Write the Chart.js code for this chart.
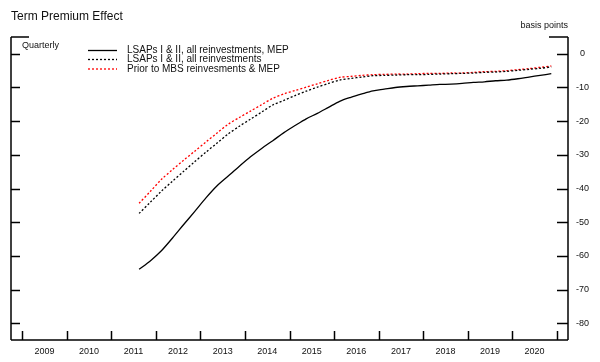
<!DOCTYPE html>
<html><head><meta charset="utf-8">
<script src="https://cdn.jsdelivr.net/npm/chart.js@4/dist/chart.umd.min.js"></script>
<style>html,body{margin:0;padding:0;background:#fff;}#wrap{width:600px;height:362px;position:relative;}</style>
</head><body><div id="wrap"><canvas id="c" width="600" height="362" style="width:600px;height:362px"></canvas></div>
<script>
const chartTitle = 'Term Premium Effect';
const unitLabel = 'basis points';
const freqLabel = 'Quarterly';
const quarters = ['2011Q3','2011Q4',
 '2012Q1','2012Q2','2012Q3','2012Q4','2013Q1','2013Q2','2013Q3','2013Q4',
 '2014Q1','2014Q2','2014Q3','2014Q4','2015Q1','2015Q2','2015Q3','2015Q4',
 '2016Q1','2016Q2','2016Q3','2016Q4','2017Q1','2017Q2','2017Q3','2017Q4',
 '2018Q1','2018Q2','2018Q3','2018Q4','2019Q1','2019Q2','2019Q3','2019Q4',
 '2020Q1','2020Q2','2020Q3','2020Q4'];
const seriesNames = ['LSAPs I & II, all reinvestments, MEP','LSAPs I & II, all reinvestments','Prior to MBS reinvesments & MEP'];
const lsapsMep = [-64,-61.5,-58.5,-54.7,-50.7,-46.8,-42.8,-39.2,-36.3,-33.4,
 -30.6,-28.1,-25.8,-23.4,-21.3,-19.3,-17.7,-15.9,-14.1,-12.9,
 -11.9,-11.0,-10.5,-10.0,-9.7,-9.5,-9.3,-9.1,-9.0,-8.8,
 -8.5,-8.3,-8.0,-7.8,-7.4,-6.9,-6.4,-5.9];
const lsapsAll = [-47.4,-44.1,-40.8,-37.8,-34.9,-32.0,-29.2,-26.5,-23.8,-21.5,
 -19.4,-17.3,-15.2,-13.8,-12.4,-11.1,-9.9,-8.8,-7.8,-7.3,
 -6.9,-6.5,-6.4,-6.3,-6.2,-6.2,-6.1,-6.0,-5.9,-5.8,
 -5.7,-5.5,-5.4,-5.2,-4.9,-4.6,-4.3,-3.9];
const priorMbs = [-44.4,-40.9,-37.3,-34.4,-31.6,-28.9,-26.2,-23.5,-20.9,-18.9,
 -17.0,-15.1,-13.2,-11.9,-10.9,-9.9,-8.9,-7.9,-7.0,-6.7,
 -6.4,-6.2,-6.1,-6.0,-6.0,-5.9,-5.8,-5.8,-5.7,-5.7,
 -5.5,-5.3,-5.2,-5.0,-4.7,-4.4,-4.0,-3.6];
const yearLabels = [2009,2010,2011,2012,2013,2014,2015,2016,2017,2018,2019,2020];
const yTicks = [0,-10,-20,-30,-40,-50,-60,-70,-80];

const qx = q => { const yr = parseInt(q.slice(0,4)); const n = parseInt(q.slice(5)); return yr + (n-1)/4 + 0.125; };
const toPts = arr => arr.map((v,i) => ({x: qx(quarters[i]), y: v}));

const FONT = '"Liberation Sans", Arial, sans-serif';

const framePlugin = {
  id: 'frame',
  afterDraw(chart) {
    const {ctx, chartArea: a, scales: {x, y}} = chart;
    ctx.save();
    const ln = (x1,y1,x2,y2) => { ctx.beginPath(); ctx.moveTo(x1,y1); ctx.lineTo(x2,y2); ctx.stroke(); };
    ctx.strokeStyle = '#000';
    ctx.lineWidth = 1.5;
    ctx.setLineDash([]);
    ln(a.left, a.top, a.left, a.bottom);
    ln(a.right, a.top, a.right, a.bottom);
    ln(a.left, a.bottom, a.right, a.bottom);
    ln(a.left, a.top, a.left + 18, a.top);
    ln(a.right - 19, a.top, a.right, a.top);
    yTicks.forEach(v => {
      const py = Math.round(y.getPixelForValue(v)) + 0.5;
      ln(a.left, py, a.left + 9, py);
      ln(a.right - 11, py, a.right, py);
    });
    const bounds = yearLabels.concat([yearLabels[yearLabels.length-1] + 1]);
    bounds.forEach(yr => {
      const px = Math.round(x.getPixelForValue(yr)) + 0.5;
      ln(px, a.bottom, px, a.bottom - 9);
    });
    ctx.fillStyle = '#111';
    ctx.textBaseline = 'middle';
    ctx.textAlign = 'left';
    ctx.font = '12px ' + FONT;
    ctx.fillText(chartTitle, 11, 17);
    ctx.font = '9px ' + FONT;
    ctx.fillText(freqLabel, 22, 46);
    ctx.textAlign = 'right';
    ctx.fillText(unitLabel, a.right, 26);
    ctx.textAlign = 'left';
    ctx.font = '10px ' + FONT;
    const rows = [50.5, 59.5, 69];
    chart.data.datasets.forEach((ds, i) => {
      ctx.strokeStyle = ds.borderColor;
      ctx.lineWidth = ds.borderWidth;
      ctx.setLineDash(ds.borderDash || []);
      ln(88, rows[i], 117, rows[i]);
      ctx.fillStyle = '#111';
      ctx.fillText(ds.label, 127, rows[i]);
    });
    ctx.restore();
  }
};

new Chart(document.getElementById('c'), {
  type: 'line',
  data: {
    datasets: [
      {label: seriesNames[0], data: toPts(lsapsMep), borderColor: '#000', borderWidth: 1.3, pointRadius: 0, tension: 0.3, fill: false},
      {label: seriesNames[1], data: toPts(lsapsAll), borderColor: '#000', borderWidth: 1.3, borderDash: [2,2], pointRadius: 0, tension: 0.3, fill: false},
      {label: seriesNames[2], data: toPts(priorMbs), borderColor: '#ff0000', borderWidth: 1.3, borderDash: [2,2], pointRadius: 0, tension: 0.3, fill: false}
    ]
  },
  options: {
    responsive: false,
    maintainAspectRatio: false,
    animation: false,
    devicePixelRatio: 1,
    layout: {padding: {top: 37, left: 11, right: 0, bottom: 0}},
    plugins: {legend: {display: false}, tooltip: {enabled: false}, title: {display: false}},
    scales: {
      x: {
        type: 'linear', min: 2008.75, max: 2021.25,
        grid: {display: false}, border: {display: false},
        afterBuildTicks: s => { s.ticks = yearLabels.map(v => ({value: v + 0.5})); },
        afterFit: s => { s.height = 22; },
        ticks: {autoSkip: false, maxRotation: 0, padding: -2, color: '#111', font: {family: FONT, size: 9},
          callback: v => String(Math.floor(v))}
      },
      y: {
        type: 'linear', position: 'right', min: -85, max: 5,
        grid: {display: false}, border: {display: false},
        afterBuildTicks: s => { s.ticks = yTicks.map(v => ({value: v})); },
        afterFit: s => { s.width = 32; },
        ticks: {autoSkip: false, padding: 0, crossAlign: 'center', color: '#111', font: {family: FONT, size: 9},
          callback: v => String(v)}
      }
    }
  },
  plugins: [framePlugin]
});
</script></body></html>
